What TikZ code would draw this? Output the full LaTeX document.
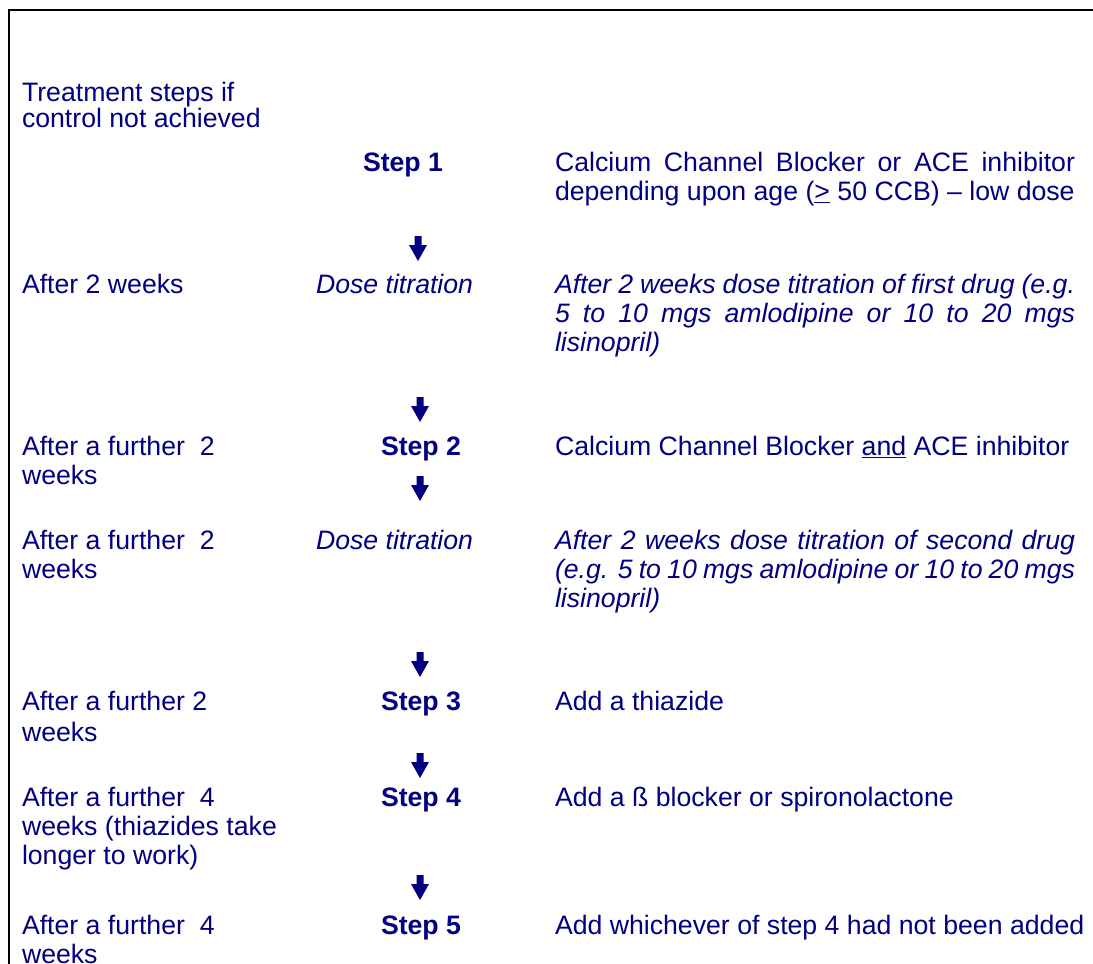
\documentclass[tikz,border=0pt]{standalone}
\usepackage{fontspec}
\setmainfont{Liberation Sans}
\definecolor{navy}{RGB}{0,0,128}
\tikzset{
  txt/.style={anchor=base west, inner sep=0pt, outer sep=0pt, text=navy, font=\fontsize{20}{24}\selectfont},
  stepl/.style={txt, font=\fontsize{20}{24}\selectfont\bfseries},
  ital/.style={txt, font=\fontsize{20}{24}\selectfont\itshape},
  frame/.style={line width=1.5pt, black},
  darrow/.pic={\fill[navy] (-3.5,-13) -- (3.5,-13) -- (3.5,-4) -- (9,-4) -- (0,12) -- (-9,-4) -- (-3.5,-4) -- cycle;}
}
\newcommand{\jl}[1]{\makebox[390pt][s]{#1}}
\begin{document}
\begin{tikzpicture}[x=0.75pt, y=-0.75pt]
\clip (0,0) rectangle (1093,964);
\fill[white] (0,0) rectangle (1093,964);
\draw[frame] (9,964) -- (9,10) -- (1093,10);

% column 1
\node[txt] (h1) at (22,101) {Treatment steps if};
\node[txt] (h2) at (22,127) {control not achieved};

% row 1
\node[stepl] (s1) at (363,171) {Step 1};
\node[txt] (r1a) at (555,171) {\jl{Calcium Channel Blocker or ACE inhibitor}};
\node[txt] (r1b) at (555,200) {depending upon age (\underline{>} 50 CCB) – low dose};
\pic at (418,249) {darrow};

% row 2
\node[txt] (l2) at (22,293) {After 2 weeks};
\node[ital] (d2) at (316,293) {Dose titration};
\node[ital] (r2a) at (555,293) {\jl{After 2 weeks dose titration of first drug (e.g.}};
\node[ital] (r2b) at (555,322) {\jl{5 to 10 mgs amlodipine or 10 to 20 mgs}};
\node[ital] (r2c) at (555,351) {lisinopril)};
\pic at (420,410) {darrow};

% row 3
\node[txt] (l3a) at (22,455) {After a further\ \ 2};
\node[txt] (l3b) at (22,484) {weeks};
\node[stepl] (s2) at (381,455) {Step 2};
\node[txt] (r3) at (555,455) {Calcium Channel Blocker \underline{and} ACE inhibitor};
\pic at (420,489) {darrow};

% row 4
\node[txt] (l4a) at (22,549) {After a further\ \ 2};
\node[txt] (l4b) at (22,578) {weeks};
\node[ital] (d4) at (316,549) {Dose titration};
\node[ital] (r4a) at (555,549) {\jl{After 2 weeks dose titration of second drug}};
\node[ital] (r4b) at (555,578) {\jl{(e.g. 5 to 10 mgs amlodipine or 10 to 20 mgs}};
\node[ital] (r4c) at (555,607) {lisinopril)};
\pic at (420,665) {darrow};

% row 5
\node[txt] (l5a) at (22,710) {After a further 2};
\node[txt] (l5b) at (22,741) {weeks};
\node[stepl] (s3) at (381,710) {Step 3};
\node[txt] (r5) at (555,710) {Add a thiazide};
\pic at (420,766) {darrow};

% row 6
\node[txt] (l6a) at (22,806) {After a further\ \ 4};
\node[txt] (l6b) at (22,835) {weeks (thiazides take};
\node[txt] (l6c) at (22,864) {longer to work)};
\node[stepl] (s4) at (381,806) {Step 4};
\node[txt] (r6) at (555,806) {Add a ß blocker or spironolactone};
\pic at (420,888) {darrow};

% row 7
\node[txt] (l7a) at (22,934) {After a further\ \ 4};
\node[txt] (l7b) at (22,963) {weeks};
\node[stepl] (s5) at (381,934) {Step 5};
\node[txt] (r7) at (555,934) {Add whichever of step 4 had not been added};
\end{tikzpicture}
\end{document}
